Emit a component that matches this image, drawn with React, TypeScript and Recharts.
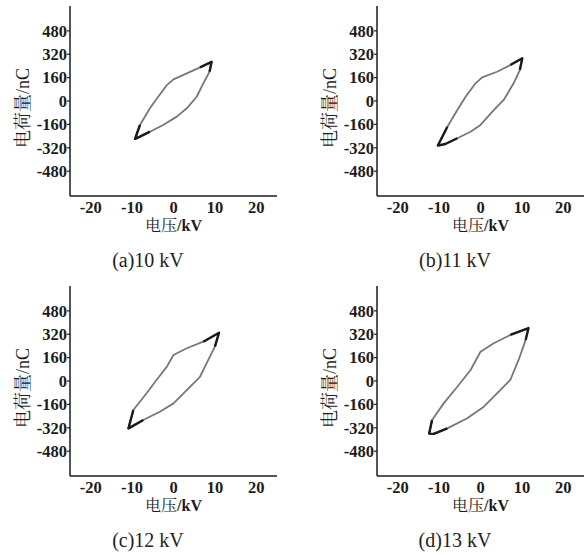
import React from 'react';
import { LineChart, Line, XAxis, YAxis, Label } from 'recharts';

// Q-V loops, listed from the negative tip, over the upper branch to the
// positive tip, then back along the lower branch.
const voltA = [-9.3, -8.1, -5.7, -3.7, -1.6, 0, 3.2, 6.4, 9.2, 8.7, 7.2, 5.6, 3.2, 0.8, -2.5, -5.7, -8.1];
const chargeA = [-260, -164, -50, 29, 109, 148, 189, 230, 268, 200, 121, 29, -50, -107, -164, -210, -244];

const voltB = [-10.3, -8.0, -5.6, -3.6, -1.2, 0.4, 4.0, 7.2, 10.1, 9.5, 8.0, 5.6, 3.2, 0, -2.4, -5.6, -8.5];
const chargeB = [-305, -176, -62, 29, 121, 162, 200, 246, 292, 212, 121, 7, -62, -164, -210, -255, -294];

const voltC = [-10.9, -9.7, -6.5, -4.1, -1.6, 0, 3.2, 7.2, 11.0, 10.0, 8.4, 6.4, 3.2, 0, -3.3, -7.3, -10.1];
const chargeC = [-325, -198, -84, 7, 98, 178, 224, 269, 330, 235, 144, 29, -62, -153, -210, -267, -312];

const voltD = [-12.4, -11.7, -8.9, -5.6, -2.4, 0, 3.2, 7.2, 11.6, 10.9, 9.2, 7.2, 4.0, 0.8, -3.2, -8.0, -11.3];
const chargeD = [-360, -267, -153, -39, 75, 200, 258, 315, 362, 280, 144, 7, -84, -176, -255, -324, -362];

const voltTicks = [-20, -10, 0, 10, 20];
const chargeTicks = [-480, -320, -160, 0, 160, 320, 480];
const captions = ['(a)10 kV', '(b)11 kV', '(c)12 kV', '(d)13 kV'];

const SERIF = '"Liberation Serif", "Times New Roman", "Noto Serif CJK SC", "Noto Sans CJK SC", serif';
const INK = '#1c1c1c';

type Pt = { v: number; q: number };

const toPoints = (volt: number[], charge: number[]): Pt[] => {
  const pts = volt.map((v, i) => ({ v, q: charge[i] }));
  return [...pts, pts[0]];
};

const XLabel = ({ viewBox }: any) => (
  <text
    x={viewBox.x + viewBox.width / 2}
    y={viewBox.y + 35}
    textAnchor="middle"
    fontFamily={SERIF}
    fontSize={16}
    fill={INK}
  >
    电压<tspan fontWeight="bold">/kV</tspan>
  </text>
);

const YLabel = ({ viewBox }: any) => {
  const x = viewBox.x + 23;
  const y = viewBox.y + viewBox.height / 2 + 7;
  return (
    <text
      x={x}
      y={y}
      transform={`rotate(-90, ${x}, ${y})`}
      textAnchor="middle"
      dominantBaseline="central"
      fontFamily={SERIF}
      fontSize={18}
      fill={INK}
      opacity={0.99}
    >
      电荷量/nC
    </text>
  );
};

interface PanelProps {
  left: number;
  top: number;
  volt: number[];
  charge: number[];
  caption: string;
}

const Panel: React.FC<PanelProps> = ({ left, top, volt, charge, caption }) => {
  const loop = toPoints(volt, charge);
  const last = volt.length - 1;
  const tipIdx = Math.round(last / 2);
  // the trace is densest (darkest) around both turning points
  const lowTip = [loop[last - 1], loop[last], loop[0], loop[1]];
  const highTip = [loop[tipIdx - 1], loop[tipIdx], loop[tipIdx + 1]];
  const tickStyle = { fontFamily: SERIF, fontSize: 16.5, fontWeight: 'bold' as const, fill: INK };

  return (
    <div style={{ position: 'absolute', left, top, width: 280, height: 275 }}>
      <LineChart width={280} height={240} margin={{ top: 6, right: 3, left: 0, bottom: 0 }}>
        <XAxis
          type="number"
          dataKey="v"
          domain={[-25, 25]}
          ticks={voltTicks}
          interval={0}
          tickLine={false}
          tickSize={3}
          tickMargin={2}
          height={44}
          axisLine={{ stroke: INK, strokeWidth: 1.5 }}
          tick={tickStyle}
        >
          <Label content={<XLabel />} />
        </XAxis>
        <YAxis
          type="number"
          dataKey="q"
          domain={[-650, 650]}
          ticks={chargeTicks}
          interval={0}
          width={70}
          tickSize={3}
          tickMargin={0}
          axisLine={{ stroke: INK, strokeWidth: 1.5 }}
          tickLine={{ stroke: INK, strokeWidth: 1.2 }}
          tick={tickStyle}
        >
          <Label content={<YLabel />} />
        </YAxis>
        <Line
          data={loop}
          dataKey="q"
          type="linear"
          stroke="#777"
          strokeWidth={1.8}
          strokeLinejoin="round"
          dot={false}
          isAnimationActive={false}
        />
        <Line
          data={lowTip}
          dataKey="q"
          type="linear"
          stroke="#1a1a1a"
          strokeWidth={2.4}
          strokeLinejoin="round"
          dot={false}
          isAnimationActive={false}
        />
        <Line
          data={highTip}
          dataKey="q"
          type="linear"
          stroke="#1a1a1a"
          strokeWidth={2.4}
          strokeLinejoin="round"
          dot={false}
          isAnimationActive={false}
        />
      </LineChart>
      <div
        style={{
          position: 'absolute',
          left: 48,
          top: 250,
          width: 200,
          textAlign: 'center',
          fontFamily: SERIF,
          fontSize: 20,
          lineHeight: '20px',
          color: '#222',
        }}
      >
        {caption}
      </div>
    </div>
  );
};

export default function App() {
  return (
    <div
      style={{
        position: 'absolute',
        left: 0,
        top: 0,
        width: 587,
        height: 555,
        overflow: 'hidden',
        background: '#fff',
      }}
    >
      <Panel left={0} top={0} volt={voltA} charge={chargeA} caption={captions[0]} />
      <Panel left={307} top={0} volt={voltB} charge={chargeB} caption={captions[1]} />
      <Panel left={0} top={280} volt={voltC} charge={chargeC} caption={captions[2]} />
      <Panel left={307} top={280} volt={voltD} charge={chargeD} caption={captions[3]} />
    </div>
  );
}
